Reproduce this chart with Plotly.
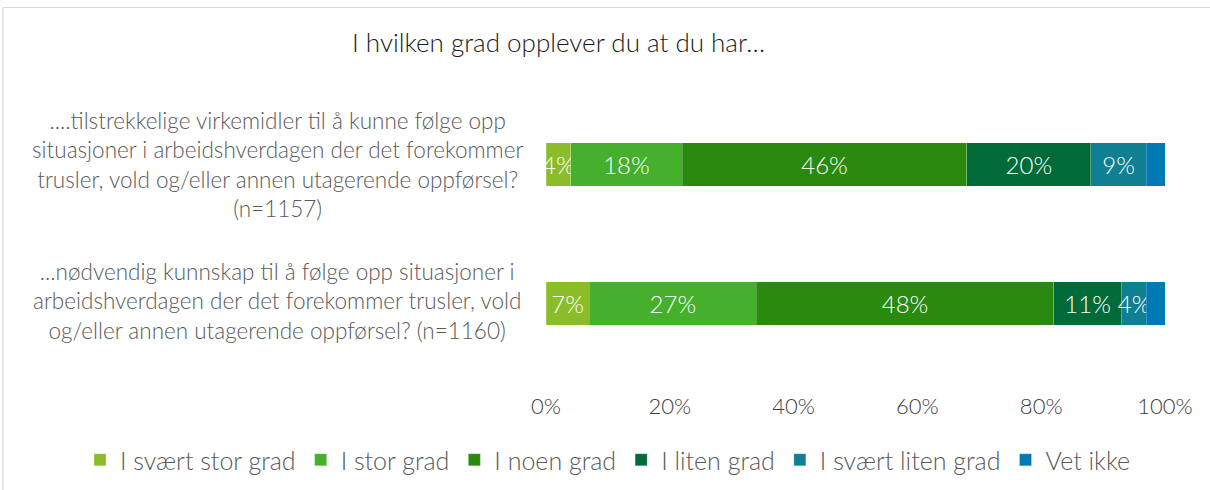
import plotly.graph_objects as go

# Survey questions (top to bottom) and response categories
questions = [
    "....tilstrekkelige virkemidler til å kunne følge opp<br>situasjoner i arbeidshverdagen der det forekommer<br>trusler, vold og/eller annen utagerende oppførsel?<br>(n=1157)",
    "...nødvendig kunnskap til å følge opp situasjoner i<br>arbeidshverdagen der det forekommer trusler, vold<br>og/eller annen utagerende oppførsel? (n=1160)",
]
question_ids = ["Q1", "Q2"]
categories = ["I svært stor grad", "I stor grad", "I noen grad", "I liten grad", "I svært liten grad", "Vet ikke"]
colors = ["#8BBD2B", "#44B02C", "#298A0F", "#006B39", "#0E8091", "#0079B5"]

# Percent per category, one list per question
values = {
    "I svært stor grad": [4, 7],
    "I stor grad": [18, 27],
    "I noen grad": [46, 48],
    "I liten grad": [20, 11],
    "I svært liten grad": [9, 4],
    "Vet ikke": [3, 3],
}
show_label = {c: c != "Vet ikke" for c in categories}

x_ticks = [0, 20, 40, 60, 80, 100]

FONT = "Lato"
GREY = "#595959"

fig = go.Figure()
for cat, col in zip(categories, colors):
    fig.add_trace(go.Bar(
        name=cat,
        y=question_ids,
        x=values[cat],
        orientation="h",
        marker=dict(color=col, line=dict(width=0.6, color="rgba(255,255,255,0.35)")),
        text=[f"{v}%" for v in values[cat]] if show_label[cat] else None,
        textposition="inside",
        insidetextanchor="middle",
        textangle=0,
        textfont=dict(color="white", size=24, family=FONT, weight=300),
        constraintext="none",
        cliponaxis=False,
        hoverinfo="name+x",
    ))

# Plot-area pixel geometry used to place the frame in paper coordinates
L, R, T, B = 546, 45, 95, 102
W, H = 1210, 490
pw, ph = W - L - R, H - T - B

def px_x(p):
    return (p - L) / pw

def px_y(p):
    return (H - B - p) / ph

annotations = []
for qid, q, shift in zip(question_ids, questions, [0, 2]):
    annotations.append(dict(
        x=px_x(277), xref="paper", y=qid, yref="y",
        text=q, showarrow=False, align="center",
        xanchor="center", yanchor="middle", yshift=shift,
        font=dict(family=FONT, size=22.5, color=GREY, weight=300),
    ))
annotations.append(dict(
    x=px_x(558), xref="paper", y=px_y(42), yref="paper",
    text="I hvilken grad opplever du at du har…", showarrow=False,
    xanchor="center", yanchor="middle",
    font=dict(family=FONT, size=26, color="#1a1a1a", weight=300),
))

fig.update_layout(
    width=W, height=H,
    margin=dict(l=L, r=R, t=T, b=B, pad=0, autoexpand=False),
    barmode="stack",
    bargap=0.69,
    paper_bgcolor="white",
    plot_bgcolor="white",
    showlegend=True,
    legend=dict(
        orientation="h", xref="paper", x=px_x(80), xanchor="left",
        yref="paper", y=px_y(460), yanchor="middle",
        font=dict(family=FONT, size=25, color=GREY, weight=300),
        traceorder="normal", itemwidth=30, bgcolor="rgba(0,0,0,0)",
    ),
    xaxis=dict(
        range=[0, 100], tickvals=x_ticks,
        ticktext=[f"{t}%" for t in x_ticks],
        showgrid=False, zeroline=False, showline=False, ticks="",
        tickfont=dict(family=FONT, size=22, color="#404040", weight=300),
        ticklabelstandoff=3,
        fixedrange=True,
    ),
    yaxis=dict(
        type="category", categoryorder="array", categoryarray=question_ids,
        range=[1.608, -0.5], showticklabels=False, showgrid=False,
        zeroline=False, showline=False, ticks="", fixedrange=True,
    ),
    annotations=annotations,
    shapes=[dict(
        type="rect", xref="paper", yref="paper",
        x0=px_x(3), x1=px_x(1214), y0=px_y(7.5), y1=px_y(496),
        line=dict(color="#d9d9d9", width=1.2), fillcolor="rgba(0,0,0,0)",
        layer="below",
    )],
)

fig.write_html("out.html")
